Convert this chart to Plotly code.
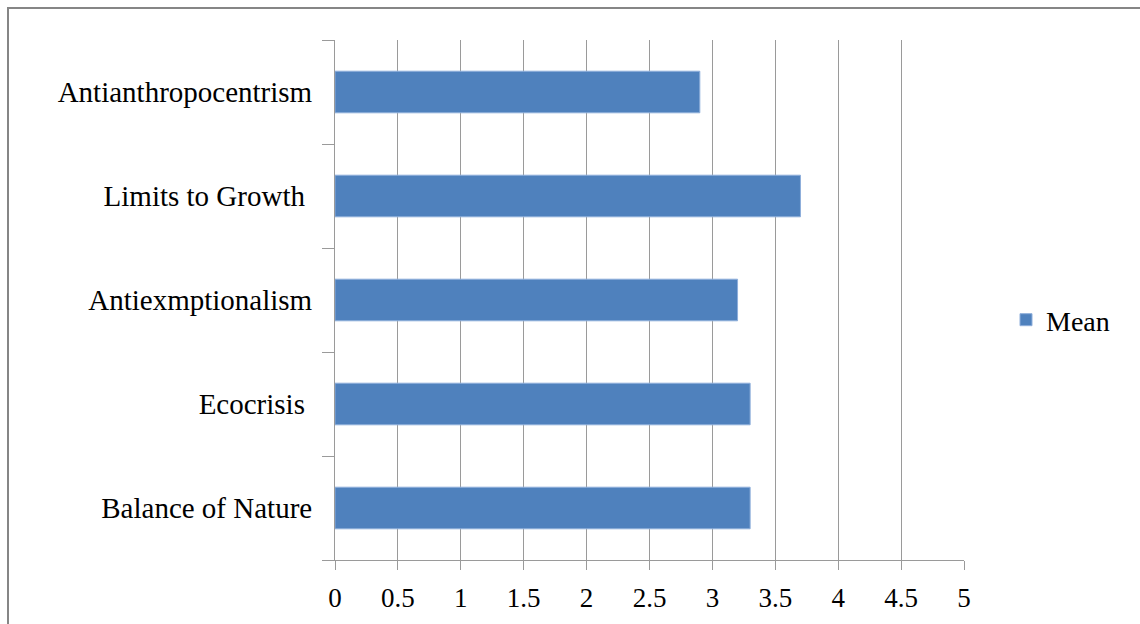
import plotly.graph_objects as go

# Mean scores per environmental-attitude dimension
categories = ["Balance of Nature", "Ecocrisis ", "Antiexmptionalism", "Limits to Growth ", "Antianthropocentrism"]
means = [3.3, 3.3, 3.2, 3.7, 2.9]
x_ticks = [0, 0.5, 1, 1.5, 2, 2.5, 3, 3.5, 4, 4.5, 5]
x_tick_labels = ["0", "0.5", "1", "1.5", "2", "2.5", "3", "3.5", "4", "4.5", "5"]

W, H = 1140, 624
L, R, T, B = 335, 176, 40, 64
pw, ph = W - L - R, H - T - B

def px_x(p):
    return (p - L) / pw

def px_y(p):
    return (H - B - p) / ph

font_family = "Liberation Serif, Times New Roman, serif"
grid_col = "#9a9a9a"

fig = go.Figure()
fig.add_trace(go.Bar(
    x=means, y=categories, orientation="h", name="Mean",
    marker=dict(color="#4F81BD", line=dict(color="#8eaedb", width=1)),
))

fig.update_layout(
    width=W, height=H,
    margin=dict(l=L, r=R, t=T, b=B),
    paper_bgcolor="white", plot_bgcolor="white",
    bargap=0.6,
    font=dict(family=font_family, size=26, color="black"),
    showlegend=True,
    legend=dict(x=px_x(1006), y=px_y(320), xanchor="left", yanchor="middle",
                font=dict(size=28), itemwidth=30, bgcolor="rgba(0,0,0,0)"),
    xaxis=dict(
        range=[0, 5], tickvals=x_ticks, ticktext=x_tick_labels,
        showgrid=True, gridcolor=grid_col, gridwidth=1,
        showline=True, linecolor=grid_col, linewidth=1,
        ticks="outside", ticklen=9, tickcolor=grid_col,
        tickfont=dict(size=27), ticklabelstandoff=5,
        zeroline=False, fixedrange=True, automargin=False,
    ),
    yaxis=dict(
        type="category", categoryorder="array", categoryarray=categories,
        tickson="boundaries", ticks="outside", ticklen=12, tickcolor=grid_col,
        showline=True, linecolor=grid_col, linewidth=1,
        tickfont=dict(size=29),
        showgrid=False, ticklabelstandoff=16, fixedrange=True, automargin=False,
    ),
    shapes=[dict(
        type="rect", xref="paper", yref="paper",
        x0=px_x(8), x1=px_x(W + 40), y0=px_y(H + 40), y1=px_y(8),
        line=dict(color="#868686", width=2), fillcolor="rgba(0,0,0,0)",
        layer="below",
    )],
)

fig.write_html("out.html")
